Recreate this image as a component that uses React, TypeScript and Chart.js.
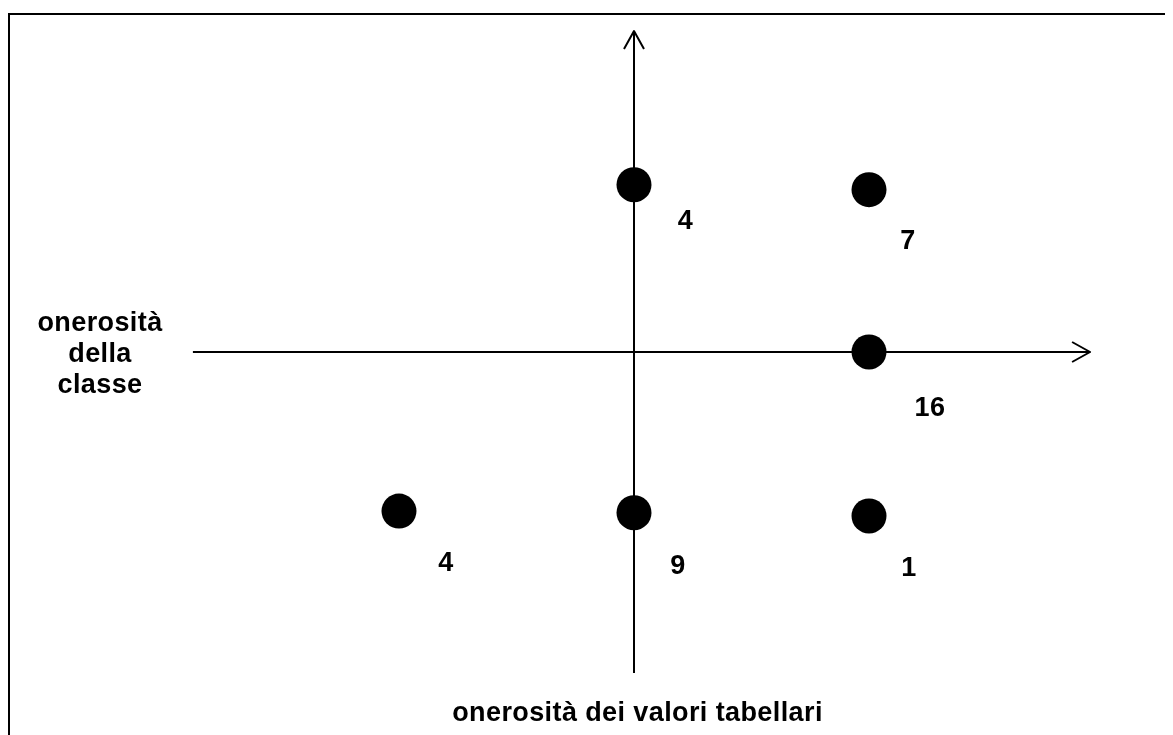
import React, { useEffect, useRef } from "react";
import { Chart, registerables } from "chart.js";

Chart.register(...registerables);

// ---- data ----
const xValues = [0, 1, 1, -1, 0, 1];
const yValues = [1.02, 0.99, 0, -0.97, -0.98, -1.0];
const counts = ["4", "7", "16", "4", "9", "1"];
const xAxisTitle = "onerosità dei valori tabellari";
const yAxisTitleLines = ["onerosità", "della", "classe"];

// axis extents (data units) and scale ranges
const xAxisExtent = [-1.877, 1.945];
const yAxisExtent = [-1.957, 1.963];
const xRange = [-2.6553, 2.2936];
const yRange = [-2.3354, 2.0549];

// label offsets from each point (px) – layout only
const labelOffsets = [
  [51.5, 34],
  [39, 49],
  [61, 54],
  [47, 50],
  [44, 51],
  [40, 50],
];

const FONT = "bold 27px 'Liberation Sans', Arial, sans-serif";

const quadrantPlugin = {
  id: "quadrant",
  beforeDatasetsDraw(chart: any) {
    const ctx = chart.ctx;
    const xs = chart.scales.x;
    const ys = chart.scales.y;
    const x0 = Math.round(xs.getPixelForValue(0));
    const y0 = Math.round(ys.getPixelForValue(0));
    const xl = xs.getPixelForValue(xAxisExtent[0]);
    const xr = xs.getPixelForValue(xAxisExtent[1]);
    const yb = ys.getPixelForValue(yAxisExtent[0]);
    const yt = ys.getPixelForValue(yAxisExtent[1]);
    ctx.save();
    ctx.strokeStyle = "#000";
    ctx.lineWidth = 2;
    ctx.lineJoin = "round";
    ctx.lineCap = "butt";
    ctx.beginPath();
    ctx.moveTo(xl, y0);
    ctx.lineTo(xr - 1, y0);
    ctx.stroke();
    ctx.beginPath();
    ctx.moveTo(xr - 19, y0 - 10);
    ctx.lineTo(xr - 1, y0);
    ctx.lineTo(xr - 19, y0 + 10);
    ctx.stroke();
    ctx.beginPath();
    ctx.moveTo(x0, yb);
    ctx.lineTo(x0, yt + 1);
    ctx.stroke();
    ctx.beginPath();
    ctx.moveTo(x0 - 10, yt + 19);
    ctx.lineTo(x0, yt + 1);
    ctx.lineTo(x0 + 10, yt + 19);
    ctx.stroke();
    ctx.restore();
  },
  afterDraw(chart: any) {
    const ctx = chart.ctx;
    const xs = chart.scales.x;
    const ys = chart.scales.y;
    ctx.save();
    ctx.fillStyle = "#000";
    ctx.font = FONT;
    try {
      (ctx as any).letterSpacing = "0.4px";
    } catch (e) {}
    ctx.textAlign = "center";
    ctx.textBaseline = "alphabetic";
    counts.forEach((t, i) => {
      const px = xs.getPixelForValue(xValues[i]) + labelOffsets[i][0];
      const py = ys.getPixelForValue(yValues[i]) + labelOffsets[i][1];
      ctx.fillText(t, px, py + 10);
    });
    const baseLeft = [316, 347, 378];
    yAxisTitleLines.forEach((t, i) => ctx.fillText(t, 90, baseLeft[i]));
    ctx.fillText(xAxisTitle, xs.getPixelForValue(0) + 3.5, 706);
    ctx.restore();
  },
};

export default function App() {
  const ref = useRef<HTMLCanvasElement | null>(null);
  useEffect(() => {
    if (!ref.current) return;
    const chart = new Chart(ref.current, {
      type: "scatter",
      data: {
        datasets: [
          {
            data: xValues.map((x, i) => ({ x, y: yValues[i] })),
            pointStyle: "circle",
            pointRadius: 17.5,
            pointBackgroundColor: "#000",
            pointBorderWidth: 0,
            backgroundColor: "#000",
            borderWidth: 0,
          },
        ],
      },
      options: {
        responsive: false,
        maintainAspectRatio: false,
        animation: false,
        layout: { padding: 0, autoPadding: false },
        plugins: { legend: { display: false }, tooltip: { enabled: false } },
        scales: {
          x: { type: "linear", min: xRange[0], max: xRange[1], display: false },
          y: { type: "linear", min: yRange[0], max: yRange[1], display: false },
        },
      },
      plugins: [quadrantPlugin],
    });
    return () => chart.destroy();
  }, []);
  return (
    <div style={{ paddingTop: 5, width: 1165, height: 722 }}>
      <div
        style={{
          width: 1165,
          height: 722,
          boxSizing: "border-box",
          borderTop: "2px solid #000",
          borderLeft: "2px solid #000",
        }}
      >
        <canvas ref={ref} width={1163} height={720} style={{ display: "block", width: 1163, height: 720 }} />
      </div>
    </div>
  );
}
